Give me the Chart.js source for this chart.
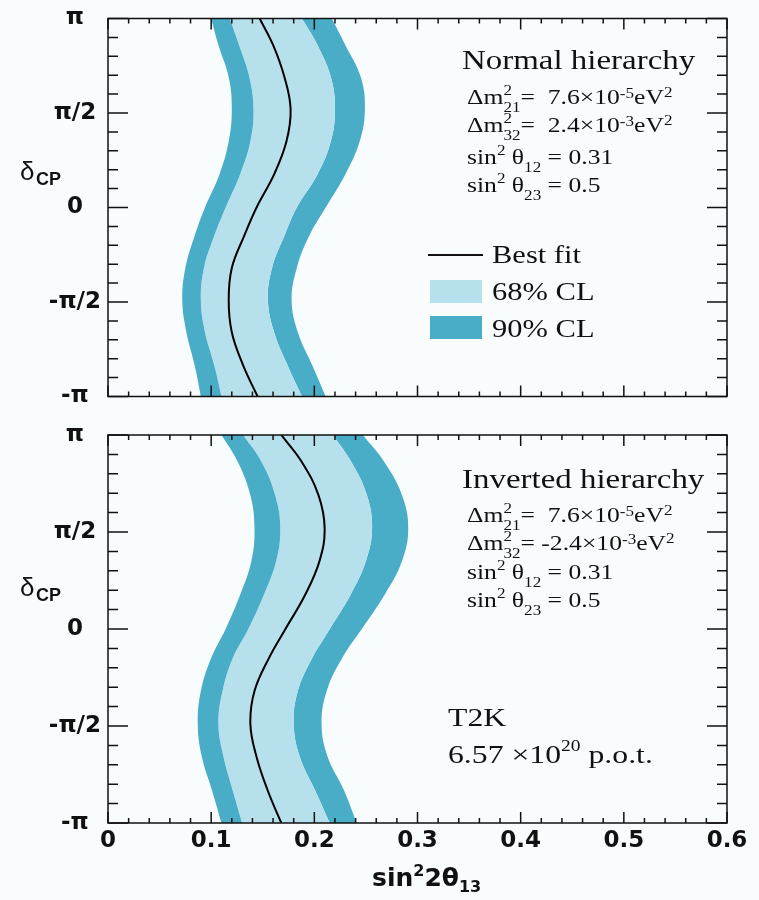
<!DOCTYPE html>
<html>
<head>
<meta charset="utf-8">
<script src="https://cdn.jsdelivr.net/npm/chart.js@4/dist/chart.umd.min.js"></script>
<style>
  html, body { margin: 0; padding: 0; background: #f9fcfd; }
  #wrap { position: relative; width: 759px; height: 900px; }
  canvas { position: absolute; left: 0; }
  #nh { top: 0; }
  #ih { top: 415px; }
</style>
</head>
<body>
<div id="wrap">
  <canvas id="nh" width="759" height="415"></canvas>
  <canvas id="ih" width="759" height="485"></canvas>
</div>
<script>
// delta_CP sample points, in units of pi
const DELTA = [1, 0.86, 0.69, 0.52, 0.35, 0.175, 0, -0.15, -0.32, -0.49, -0.66, -0.835, -1];

// normal hierarchy: sin^2 2theta13 at each delta
const NH_90_LO = [0.100, 0.107, 0.117, 0.120, 0.117, 0.108, 0.094, 0.084, 0.075, 0.072, 0.076, 0.084, 0.090];
const NH_68_LO = [0.118, 0.127, 0.137, 0.141, 0.138, 0.128, 0.114, 0.103, 0.093, 0.090, 0.094, 0.103, 0.110];
const NH_BEST  = [0.147, 0.160, 0.171, 0.177, 0.173, 0.161, 0.144, 0.132, 0.120, 0.117, 0.120, 0.131, 0.145];
const NH_68_HI = [0.188, 0.203, 0.216, 0.220, 0.216, 0.203, 0.183, 0.171, 0.159, 0.155, 0.161, 0.174, 0.188];
const NH_90_HI = [0.217, 0.230, 0.245, 0.249, 0.244, 0.230, 0.211, 0.195, 0.183, 0.178, 0.184, 0.198, 0.211];

// inverted hierarchy
const IH_90_LO = [0.110, 0.126, 0.138, 0.142, 0.139, 0.128, 0.114, 0.100, 0.090, 0.087, 0.091, 0.101, 0.110];
const IH_68_LO = [0.131, 0.149, 0.162, 0.167, 0.163, 0.151, 0.136, 0.121, 0.111, 0.107, 0.112, 0.121, 0.130];
const IH_BEST  = [0.168, 0.188, 0.204, 0.210, 0.205, 0.191, 0.172, 0.156, 0.142, 0.138, 0.144, 0.155, 0.168];
const IH_68_HI = [0.218, 0.236, 0.251, 0.256, 0.250, 0.235, 0.215, 0.198, 0.184, 0.180, 0.186, 0.201, 0.215];
const IH_90_HI = [0.247, 0.268, 0.285, 0.291, 0.285, 0.268, 0.246, 0.227, 0.212, 0.207, 0.213, 0.229, 0.241];

// axes
const X_TICKS  = [0, 0.1, 0.2, 0.3, 0.4, 0.5, 0.6];
const X_LABELS = ['0', '0.1', '0.2', '0.3', '0.4', '0.5', '0.6'];
const Y_TICKS  = [-1, -0.5, 0, 0.5, 1];
const Y_LABELS = ['-π', '-π/2', '0', 'π/2', 'π'];
const X_MINOR = 0.02, Y_MINOR = 0.1;

const DARK  = '#49adc8';
const LIGHT = '#b7e0ed';
const SERIF = '"Liberation Serif", "Times New Roman", serif';
const SANS  = '"DejaVu Sans", sans-serif';
const SX = 1.22; // the reference text is drawn wide

// draw a run of text pieces (super/subscripts), stretched horizontally
function rich(ctx, x, y, parts, sx) {
  ctx.save();
  ctx.translate(x, y);
  ctx.scale(sx, 1);
  ctx.textBaseline = 'alphabetic';
  ctx.textAlign = 'left';
  ctx.fillStyle = '#111';
  let cx = 0;
  for (const [t, font, dy, stay] of parts) {
    ctx.font = font;
    ctx.fillText(t, cx, dy);
    if (!stay) cx += ctx.measureText(t).width;
  }
  ctx.restore();
}

function paramLines(ctx, x, ys, dm32) {
  const F = `21px ${SERIF}`, S = `14px ${SERIF}`;
  rich(ctx, x, ys[0], [['Δm', F, 0], ['2', S, -9, 1], ['21', S, 8], ['=  7.6×10', F, 0], ['-5', S, -6], ['eV', F, 0], ['2', S, -7]], SX);
  rich(ctx, x, ys[1], [['Δm', F, 0], ['2', S, -9, 1], ['32', S, 8], ['= ' + dm32 + '×10', F, 0], ['-3', S, -6], ['eV', F, 0], ['2', S, -7]], SX);
  rich(ctx, x, ys[2], [['sin', F, 0], ['2', S, -9], [' θ', F, 0], ['12', S, 8], [' = 0.31', F, 0]], SX);
  rich(ctx, x, ys[3], [['sin', F, 0], ['2', S, -9], [' θ', F, 0], ['23', S, 8], [' = 0.5', F, 0]], SX);
}

function yTitle(ctx, top) {
  ctx.save();
  ctx.fillStyle = '#111';
  ctx.textBaseline = 'alphabetic';
  ctx.font = `26px "Liberation Sans", sans-serif`;
  ctx.fillText('δ', 20, top + 161);
  ctx.font = `bold 18px "Liberation Sans", sans-serif`;
  ctx.fillText('CP', 36, top + 166);
  ctx.restore();
}

// inward tick marks on all four sides plus the frame
const frame = {
  id: 'frame',
  afterDatasetsDraw(chart) {
    const {ctx, chartArea: a, scales: {x, y}} = chart;
    ctx.save();
    ctx.strokeStyle = '#111';
    ctx.lineWidth = 1.5;
    ctx.beginPath();
    for (let i = 0; i <= Math.round(2 / Y_MINOR); i++) {
      const py = y.getPixelForValue(-1 + i * Y_MINOR);
      const len = i % 5 === 0 ? 20 : 10;
      ctx.moveTo(a.left, py);  ctx.lineTo(a.left + len, py);
      ctx.moveTo(a.right, py); ctx.lineTo(a.right - len, py);
    }
    for (let i = 0; i <= Math.round(0.6 / X_MINOR); i++) {
      const px = x.getPixelForValue(i * X_MINOR);
      const len = i % 5 === 0 ? 11 : 5;
      ctx.moveTo(px, a.bottom); ctx.lineTo(px, a.bottom - len);
      ctx.moveTo(px, a.top);    ctx.lineTo(px, a.top + len);
    }
    ctx.stroke();
    ctx.strokeRect(a.left, a.top, a.width, a.height);
    ctx.restore();
  }
};

const nhNotes = {
  id: 'nhNotes',
  afterDraw(chart) {
    const ctx = chart.ctx, t = chart.chartArea.top;
    rich(ctx, 462, t + 50, [['Normal hierarchy', `27px ${SERIF}`, 0]], SX);
    paramLines(ctx, 467, [t + 85, t + 113, t + 145, t + 173], ' 2.4');
    // legend
    ctx.save();
    ctx.strokeStyle = '#111'; ctx.lineWidth = 2;
    ctx.beginPath(); ctx.moveTo(428, 255); ctx.lineTo(483, 255); ctx.stroke();
    ctx.fillStyle = LIGHT; ctx.fillRect(430, 280, 52, 23);
    ctx.fillStyle = DARK;  ctx.fillRect(430, 316, 52, 23);
    ctx.restore();
    rich(ctx, 492, 263, [['Best fit', `25px ${SERIF}`, 0]], SX);
    rich(ctx, 492, 300, [['68% CL', `25px ${SERIF}`, 0]], SX);
    rich(ctx, 492, 337, [['90% CL', `25px ${SERIF}`, 0]], SX);
    yTitle(ctx, t);
  }
};

const ihNotes = {
  id: 'ihNotes',
  afterDraw(chart) {
    const ctx = chart.ctx, a = chart.chartArea, t = a.top;
    rich(ctx, 462, t + 53, [['Inverted hierarchy', `27px ${SERIF}`, 0]], SX);
    paramLines(ctx, 467, [t + 87, t + 115, t + 144, t + 172], '-2.4');
    rich(ctx, 448, t + 291, [['T2K', `26px ${SERIF}`, 0]], SX);
    rich(ctx, 448, t + 328, [['6.57 ×10', `26px ${SERIF}`, 0], ['20', `16px ${SERIF}`, -12], [' p.o.t.', `26px ${SERIF}`, 0]], SX);
    yTitle(ctx, t);
    // x axis title
    const B = `bold 25px ${SANS}`, b = `bold 16px ${SANS}`;
    rich(ctx, 372, a.bottom + 63, [['sin', B, 0], ['2', b, -10], ['2θ', B, 0], ['13', b, 6]], 1);
  }
};

function makeChart(id, bands, padTop, xAxisH, showX, notes) {
  const [lo90, lo68, best, hi68, hi90] = bands;
  const pts = xs => xs.map((v, i) => ({x: v, y: DELTA[i]}));
  const band = (data, fill, color) => ({
    data: pts(data), fill, backgroundColor: color,
    borderColor: 'transparent', borderWidth: 0
  });
  const tickFont = {family: SANS, size: 23, weight: 'bold', lineHeight: 1};
  return new Chart(document.getElementById(id), {
    type: 'line',
    data: {
      datasets: [
        band(lo90, false, DARK),
        band(lo68, '-1', DARK),
        band(hi68, '-1', LIGHT),
        band(hi90, '-1', DARK),
        { label: 'Best fit', data: pts(best), fill: false, borderColor: '#000', borderWidth: 2, order: -1 }
      ]
    },
    options: {
      responsive: false,
      animation: false,
      indexAxis: 'y',
      layout: { padding: { top: padTop, right: 32, left: 0, bottom: 0 } },
      elements: {
        point: { radius: 0 },
        line: { tension: 0.4 }
      },
      plugins: { legend: { display: false }, tooltip: { enabled: false } },
      scales: {
        x: {
          type: 'linear', min: 0, max: 0.6,
          grid: { display: false, drawTicks: false },
          border: { display: false },
          afterBuildTicks: s => { s.ticks = X_TICKS.map(v => ({value: v})); },
          afterFit: s => { s.height = xAxisH; },
          ticks: {
            display: showX, autoSkip: false, padding: 7, color: '#111', font: tickFont,
            callback: (v, i) => X_LABELS[i]
          }
        },
        y: {
          type: 'linear', min: -1, max: 1,
          grid: { display: false, drawTicks: false },
          border: { display: false },
          afterBuildTicks: s => { s.ticks = Y_TICKS.map(v => ({value: v})); },
          afterFit: s => { s.width = 108; },
          ticks: {
            autoSkip: false, padding: 7, crossAlign: 'center', color: '#111', font: tickFont,
            callback: (v, i) => Y_LABELS[i]
          }
        }
      }
    },
    plugins: [frame, notes]
  });
}

makeChart('nh', [NH_90_LO, NH_68_LO, NH_BEST, NH_68_HI, NH_90_HI], 12, 16, false, nhNotes);
makeChart('ih', [IH_90_LO, IH_68_LO, IH_BEST, IH_68_HI, IH_90_HI], 20, 77, true, ihNotes);
</script>
</body>
</html>
